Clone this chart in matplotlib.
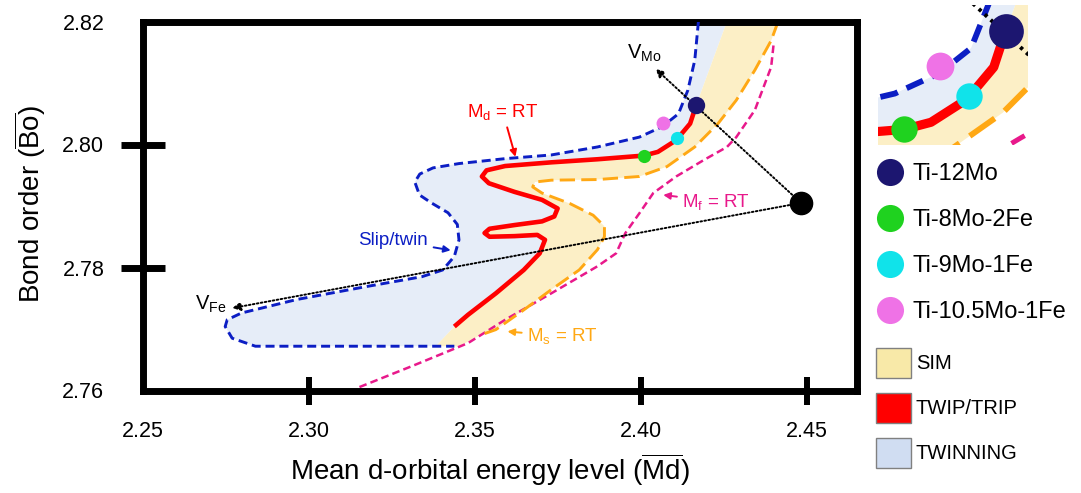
import matplotlib
matplotlib.use("Agg")
import matplotlib.pyplot as plt
from matplotlib.lines import Line2D
from matplotlib.patches import Patch

plt.rcParams['font.family'] = ['Liberation Sans', 'DejaVu Sans']
plt.rcParams['mathtext.fontset'] = 'custom'
plt.rcParams['mathtext.rm'] = 'Liberation Sans'
plt.rcParams['mathtext.it'] = 'Liberation Sans:italic'
plt.rcParams['mathtext.bf'] = 'Liberation Sans:bold'
plt.rcParams['lines.scale_dashes'] = False

# ---- boundary curves (Md, Bo) ----
# Slip/twin boundary
slip_md = [2.4174, 2.4163, 2.4142, 2.4114, 2.4065, 2.3996, 2.3870, 2.3731, 2.3592,
           2.3453, 2.3375, 2.3335, 2.3320, 2.3334, 2.3370, 2.3420, 2.3448, 2.3453,
           2.3439, 2.3404, 2.3341, 2.3174, 2.2965, 2.2798, 2.2755, 2.2749, 2.2770,
           2.2840, 2.3104, 2.3439]
slip_bo = [2.8200, 2.8137, 2.8088, 2.8050, 2.8029, 2.8012, 2.7996, 2.7983, 2.7977,
           2.7969, 2.7962, 2.7952, 2.7939, 2.7918, 2.7905, 2.7889, 2.7870, 2.7845,
           2.7818, 2.7796, 2.7785, 2.7769, 2.7748, 2.7726, 2.7715, 2.7704, 2.7685,
           2.7672, 2.7672, 2.7672]

# Md = RT
md_md = [2.4166, 2.4149, 2.4107, 2.4052, 2.4010, 2.3870, 2.3731, 2.3592, 2.3536,
         2.3522, 2.3543, 2.3620, 2.3703, 2.3750, 2.3740, 2.3703, 2.3620, 2.3545,
         2.3530, 2.3545, 2.3620, 2.3689, 2.3712, 2.3696, 2.3648, 2.3564, 2.3480,
         2.3439]
md_bo = [2.8062, 2.8034, 2.8007, 2.7988, 2.7982, 2.7976, 2.7971, 2.7965, 2.7958,
         2.7948, 2.7937, 2.7923, 2.7910, 2.7896, 2.7883, 2.7875, 2.7869, 2.7863,
         2.7856, 2.7850, 2.7851, 2.7853, 2.7845, 2.7823, 2.7796, 2.7758, 2.7723,
         2.7704]

# Ms = RT
ms_md = [2.4414, 2.4393, 2.4344, 2.4288, 2.4233, 2.4163, 2.4079, 2.3996, 2.3870,
         2.3731, 2.3682, 2.3675, 2.3703, 2.3787, 2.3857, 2.3891, 2.3891, 2.3870,
         2.3815, 2.3731, 2.3648, 2.3564, 2.3522]
ms_bo = [2.8200, 2.8169, 2.8121, 2.8072, 2.8034, 2.7996, 2.7964, 2.7948, 2.7943,
         2.7942, 2.7939, 2.7931, 2.7921, 2.7904, 2.7885, 2.7867, 2.7850, 2.7829,
         2.7796, 2.7764, 2.7731, 2.7699, 2.7691]

# Mf = RT
mf_md = [2.4400, 2.4393, 2.4344, 2.4288, 2.4260, 2.4191, 2.4107, 2.4038, 2.3996,
         2.3954, 2.3926, 2.3870, 2.3731, 2.3592, 2.3480, 2.3313, 2.3146]
mf_bo = [2.8161, 2.8126, 2.8056, 2.8012, 2.7996, 2.7975, 2.7948, 2.7921, 2.7888,
         2.7856, 2.7823, 2.7802, 2.7758, 2.7715, 2.7677, 2.7640, 2.7604]

# corners where the shaded zones meet the frame / bottom edge
zone_top = (2.4260, 2.8200)
zone_bottom = (2.3383, 2.7672)
sim_bottom = (2.3453, 2.7672)

# ---- alloys ----
alloys = ['Ti-12Mo', 'Ti-8Mo-2Fe', 'Ti-9Mo-1Fe', 'Ti-10.5Mo-1Fe']
alloy_md = [2.4168, 2.4010, 2.4110, 2.4066]
alloy_bo = [2.8064, 2.7982, 2.8010, 2.8035]
alloy_colors = ['#1c1670', '#1fd21f', '#10e3ea', '#ef72e6']
alloy_sizes = [12.5, 9.5, 9.5, 10]

ti_md, ti_bo = 2.4483, 2.7905          # pure Ti
vmo_end = (2.4045, 2.8123)             # alloying vector toward Mo
vfe_end = (2.2770, 2.7734)             # alloying vector toward Fe

x_ticks = [2.25, 2.30, 2.35, 2.40, 2.45]
y_ticks = [2.76, 2.78, 2.80, 2.82]

TWIN_FILL = '#e6edf8'
SIM_FILL = '#fcefc6'
BLUE = '#0c1ec4'
ORANGE = '#ffa814'
PINK = '#e8198b'
DOTS = (0, (1.2, 1.7))

# shaded polygons built from the boundary curves
twin_x = slip_md[:-1] + [zone_bottom[0]] + md_md[::-1] + [zone_top[0]]
twin_y = slip_bo[:-1] + [zone_bottom[1]] + md_bo[::-1] + [zone_top[1]]
sim_x = [zone_top[0]] + md_md + [zone_bottom[0], sim_bottom[0]] + ms_md[::-1]
sim_y = [zone_top[1]] + md_bo + [zone_bottom[1], sim_bottom[1]] + ms_bo[::-1]


def draw_map(ax, k=1.0, arrows=True):
    ax.fill(twin_x, twin_y, color=TWIN_FILL, lw=0, zorder=1)
    ax.fill(sim_x, sim_y, color=SIM_FILL, lw=0, zorder=1)
    ax.plot(mf_md, mf_bo, color=PINK, lw=1.8 * k, dashes=(5.5 * k, 3 * k), zorder=2)
    ax.plot(ms_md, ms_bo, color=ORANGE, lw=2.1 * k, dashes=(11 * k, 4.5 * k), zorder=2)
    ax.plot(slip_md, slip_bo, color=BLUE, lw=2.1 * k, dashes=(6.5 * k, 3.5 * k), zorder=3)
    ax.plot(md_md, md_bo, color='red', lw=3.3 * k, solid_capstyle='butt',
            solid_joinstyle='round', zorder=4)
    if arrows:
        for end in (vmo_end, vfe_end):
            ax.annotate('', xy=end, xytext=(ti_md, ti_bo), zorder=5,
                        arrowprops=dict(arrowstyle='-|>', color='black', lw=1.4,
                                        ls=DOTS, mutation_scale=12,
                                        shrinkA=0, shrinkB=0))
    else:
        for end in (vmo_end, vfe_end):
            ax.plot([ti_md, end[0]], [ti_bo, end[1]], color='black', lw=1.4 * k,
                    ls=(0, (1.2 * k, 1.7 * k)), zorder=5)
    ax.plot(ti_md, ti_bo, 'o', ms=16 * k, color='black', zorder=6)
    for x, y, c, s in zip(alloy_md, alloy_bo, alloy_colors, alloy_sizes):
        ax.plot(x, y, 'o', ms=s * k, color=c, mec='none', zorder=6)


fig = plt.figure(figsize=(10.81, 4.93), dpi=100)
ax = fig.add_axes([142.5 / 1081, 1 - 390.5 / 493, 714 / 1081, 369 / 493])
draw_map(ax)
ax.set_xlim(2.25, 2.465)
ax.set_ylim(2.76, 2.82)

for s in ax.spines.values():
    s.set_linewidth(5)
ax.set_xticks(x_ticks)
ax.set_xticklabels([f'{v:.2f}' for v in x_ticks])
ax.set_yticks(y_ticks)
ax.set_yticklabels([f'{v:.2f}' for v in y_ticks])
ax.tick_params(axis='x', direction='inout', length=20, width=4.3, pad=12, labelsize=15.5)
ax.tick_params(axis='y', direction='inout', length=31, width=5, pad=12, labelsize=15.5)
ax.xaxis.get_major_ticks()[0].tick1line.set_visible(False)
for i in (0, 3):
    ax.yaxis.get_major_ticks()[i].tick1line.set_visible(False)

ax.set_xlabel(r'Mean d-orbital energy level ($\overline{\mathrm{Md}}$)', fontsize=20,
              va='center')
ax.xaxis.set_label_coords((490 - 142.5) / 714, -(470 - 390.5) / 369)
ax.set_ylabel(r'Bond order ($\overline{\mathrm{Bo}}$)', fontsize=20, va='center')
ax.yaxis.set_label_coords(-(142.5 - 30) / 714, 0.505)

# curve labels
ax.text(2.4010, 2.8148, r'V$_{\mathrm{Mo}}$', fontsize=14.5, ha='center', va='center')
ax.text(2.2752, 2.7740, r'V$_{\mathrm{Fe}}$', fontsize=14.5, ha='right', va='center')


def tag(text, xytext, xy, color):
    ax.annotate(text, xy=xy, xytext=xytext, color=color, fontsize=13.5,
                ha='center', va='center', zorder=7,
                arrowprops=dict(arrowstyle='-|>', color=color, lw=1.4,
                                mutation_scale=10, shrinkA=2, shrinkB=0))


tag(r'M$_{\mathrm{d}}$ = RT', (2.3585, 2.8053), (2.3623, 2.7980), 'red')
tag('Slip/twin', (2.3255, 2.7844), (2.3428, 2.7828), BLUE)
tag(r'M$_{\mathrm{f}}$ = RT', (2.4228, 2.7907), (2.4068, 2.7918), PINK)
tag(r'M$_{\mathrm{s}}$ = RT', (2.3765, 2.7688), (2.3599, 2.7696), ORANGE)

# magnified view of the alloy region
axz = fig.add_axes([878 / 1081, 1 - 145 / 493, 150 / 1081, 140 / 493])
draw_map(axz, k=2.0, arrows=False)
axz.set_xlim(2.3970, 2.4202)
axz.set_ylim(2.7969, 2.8086)
axz.axis('off')

# alloy legend
alloy_handles = [Line2D([], [], ls='', marker='o', ms=19.5, color=c, mec='none')
                 for c in alloy_colors]
fig.legend(alloy_handles, alloys, loc='upper left',
           bbox_to_anchor=(879 / 1081, 1 - 163 / 493),
           frameon=False, fontsize=17, handlelength=0.95, handletextpad=0.45,
           labelspacing=1.02, borderpad=0, borderaxespad=0)

# deformation mechanism legend
mech_handles = [Patch(facecolor='#f8e9a8', edgecolor='#808080', lw=1),
                Patch(facecolor='#ff0000', edgecolor='#808080', lw=1),
                Patch(facecolor='#d0ddf2', edgecolor='#808080', lw=1)]
fig.legend(mech_handles, ['SIM', 'TWIP/TRIP', 'TWINNING'], loc='upper left',
           bbox_to_anchor=(876 / 1081, 1 - 348 / 493), frameon=False, fontsize=14.5,
           handlelength=1.75, handleheight=1.9, handletextpad=0.22, labelspacing=0.75,
           borderpad=0, borderaxespad=0)

fig.savefig('out.png', dpi=100)
